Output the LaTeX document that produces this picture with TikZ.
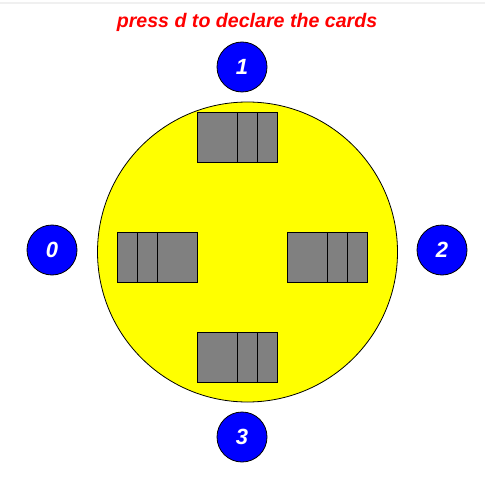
\documentclass[tikz,border=0pt]{standalone}
\usepackage{fontspec}
\setmainfont{Liberation Sans}
\definecolor{pyellow}{RGB}{255,255,0}
\definecolor{pblue}{RGB}{0,0,255}
\definecolor{pred}{RGB}{255,0,0}
\definecolor{pgray}{RGB}{128,128,128}
\definecolor{pline}{RGB}{240,240,240}
\begin{document}
\begin{tikzpicture}[x=1pt,y=-1pt,
  seat/.style={circle,draw=black,line width=0.8pt,fill=pblue,minimum size=50pt,inner sep=0pt,text=white,font=\fontsize{22}{22}\selectfont\bfseries\itshape},
  card/.style={draw=black,line width=1pt,fill=pgray},
  table/.style={draw=black,line width=0.8pt,fill=pyellow}]
\useasboundingbox (0,0) rectangle (485,486);
\fill[pline] (0,2) rectangle (485,4);
\node[table,circle,minimum size=300pt,inner sep=0pt] (tbl) at (247.5,252) {};
\node[anchor=base,text=pred,font=\fontsize{19.6}{20}\selectfont\bfseries\itshape,inner sep=0pt] (title) at (247,28) {press d to declare the cards};
\node[seat] (p1) at (242,67) {1};
\node[seat] (p0) at (52,250) {0};
\node[seat] (p2) at (442,250) {2};
\node[seat] (p3) at (242,437) {3};
% top cards
\draw[card] (197.3,112.3) rectangle (277.3,162.3);
\draw[line width=1pt] (237.3,112.3) -- (237.3,162.3) (257.3,112.3) -- (257.3,162.3);
% left cards
\draw[card] (117.3,232.3) rectangle (197.3,282.3);
\draw[line width=1pt] (137.3,232.3) -- (137.3,282.3) (157.3,232.3) -- (157.3,282.3);
% right cards
\draw[card] (287.3,232.3) rectangle (367.3,282.3);
\draw[line width=1pt] (327.3,232.3) -- (327.3,282.3) (347.3,232.3) -- (347.3,282.3);
% bottom cards
\draw[card] (197.3,332.3) rectangle (277.3,382.3);
\draw[line width=1pt] (237.3,332.3) -- (237.3,382.3) (257.3,332.3) -- (257.3,382.3);
\end{tikzpicture}
\end{document}
